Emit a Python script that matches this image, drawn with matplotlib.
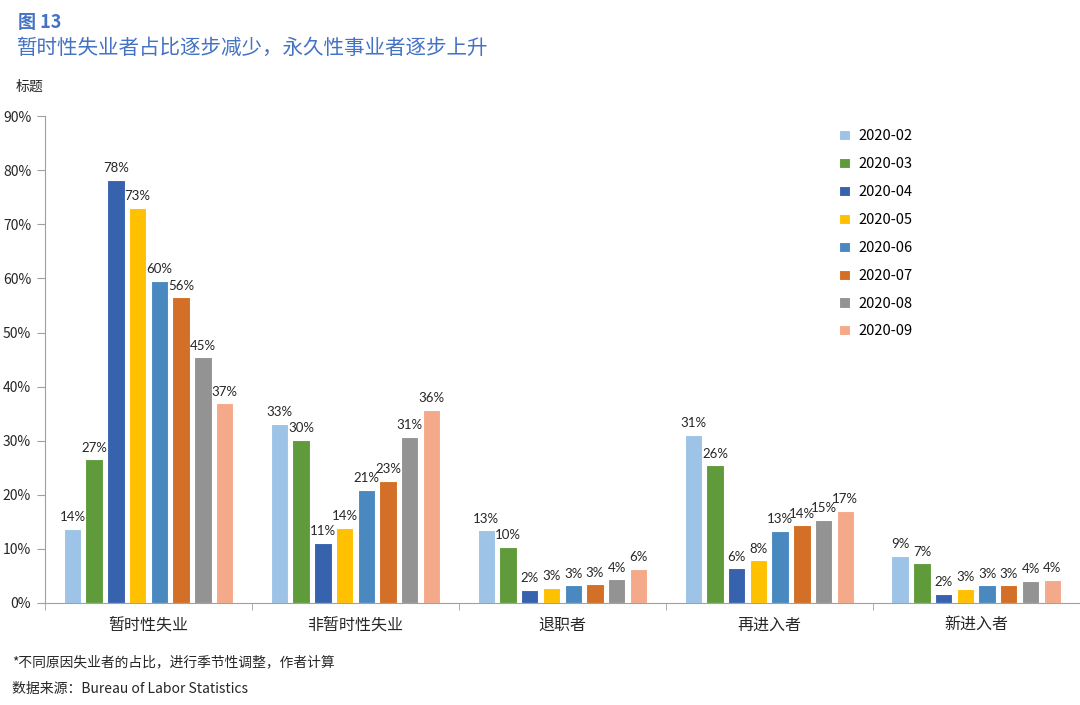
import numpy as np
import matplotlib
matplotlib.use('Agg')
import matplotlib.pyplot as plt

plt.rcParams['font.family'] = ['Noto Sans CJK SC', 'DejaVu Sans']

categories = ['暂时性失业', '非暂时性失业', '退职者', '再进入者', '新进入者']
months = ['2020-02', '2020-03', '2020-04', '2020-05', '2020-06', '2020-07', '2020-08', '2020-09']
colors = ['#9DC3E6', '#5F9B3B', '#3762AE', '#FFC000', '#4A89C0', '#D36F26', '#939393', '#F4A98B']

# share of unemployed by reason (%), rows = months
shares = [
    [13.7, 33.1, 13.4, 31.1, 8.7],
    [26.6, 30.2, 10.4, 25.5, 7.3],
    [78.3, 11.1, 2.4, 6.4, 1.7],
    [73.1, 13.9, 2.8, 7.9, 2.6],
    [59.6, 20.9, 3.2, 13.3, 3.2],
    [56.5, 22.6, 3.4, 14.4, 3.2],
    [45.4, 30.7, 4.4, 15.4, 4.1],
    [36.9, 35.7, 6.3, 17.0, 4.3],
]

fig = plt.figure(figsize=(10.8, 7.05), dpi=100)
ax = fig.add_axes([0.0417, 0.145, 0.958, 0.69])

x = np.arange(len(categories))
slot = 0.105
width = 0.084
for i, (m, vals) in enumerate(zip(months, shares)):
    pos = x + (i - 3.5) * slot
    ax.bar(pos, vals, width, color=colors[i], edgecolor='white', linewidth=0.8, label=m)
    for xp, v in zip(pos, vals):
        ax.text(xp, v + 1.0, '%d%%' % round(v), ha='center', va='bottom', fontsize=9.5,
                family=['Lato', 'DejaVu Sans'], color='#262626')

ax.set_xlim(-0.5, len(categories) - 0.5)
ax.set_ylim(0, 90)
ax.set_yticks(np.arange(0, 91, 10))
ax.set_yticklabels(['%d%%' % t for t in range(0, 91, 10)], fontsize=10, color='#262626')
ax.set_xticks(x)
ax.set_xticklabels(categories, fontsize=11.5, color='#262626')
ax.tick_params(axis='x', length=0, pad=10)
ax.set_xticks(np.arange(-0.5, len(categories)), minor=True)
ax.tick_params(axis='x', which='minor', length=5, color='#A0A0A0')
ax.tick_params(axis='y', length=6, color='#A0A0A0', pad=4)
for s in ['top', 'right']:
    ax.spines[s].set_visible(False)
for s in ['left', 'bottom']:
    ax.spines[s].set_color('#A0A0A0')

ax.legend(loc='upper left', bbox_to_anchor=(0.755, 1.0), frameon=False, fontsize=10.5,
          handlelength=0.7, handleheight=0.7, labelspacing=0.95, handletextpad=0.6)

fig.text(0.017, 0.968, '图 13', fontsize=13, color='#4472C4', fontweight='bold', va='center')
fig.text(0.016, 0.932, '暂时性失业者占比逐步减少，永久性事业者逐步上升', fontsize=14.8,
         color='#4472C4', va='center')
fig.text(0.015, 0.877, '标题', fontsize=10, color='#262626', va='center')
fig.text(0.011, 0.06, '*不同原因失业者的占比，进行季节性调整，作者计算', fontsize=9.9, color='#262626', va='center')
fig.text(0.011, 0.023, '数据来源：Bureau of Labor Statistics', fontsize=10, color='#262626', va='center')

fig.savefig('out.png', dpi=100)
